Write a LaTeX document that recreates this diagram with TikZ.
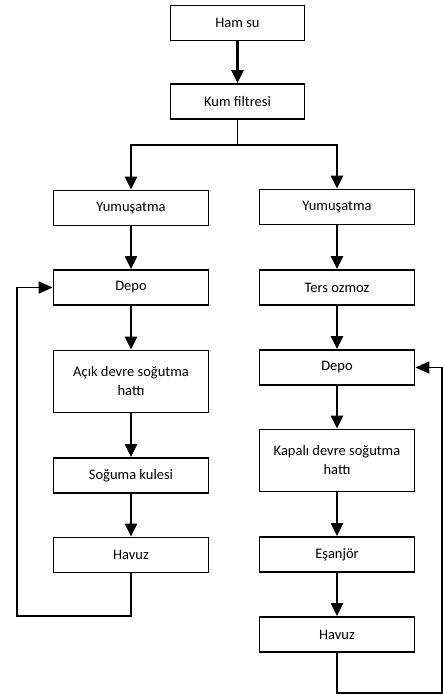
\documentclass[tikz,border=0pt]{standalone}
\usepackage{fontspec}
\setmainfont{Carlito}
\usetikzlibrary{positioning,arrows.meta}

\begin{document}
\begin{tikzpicture}[x=1pt,y=-1pt,
    box/.style={draw,line width=1.8pt,minimum width=155pt,minimum height=35pt,
      inner sep=2pt,align=center,font=\fontsize{14.5}{19}\selectfont},
    tallbox/.style={box,minimum height=62pt},
    flow/.style={line width=2.7pt,-{Triangle[length=13pt,width=12pt]}},
    back/.style={line width=1.9pt,-{Triangle[length=14pt,width=12pt]}}]
  \useasboundingbox (0,0) rectangle (443,697);

  % top of the line
  \node[box,minimum width=134pt] (ham) at (237.5,23) {Ham su};
  \node[box,minimum width=134pt] (kum) at (237.5,101.5) {Kum filtresi};

  % open circuit (left)
  \node[box] (yumL) at (131,208) {Yumuşatma};
  \node[box] (depoL) at (131,287.5) {Depo};
  \node[tallbox] (acik) at (131,381.5) {Açık devre soğutma\\hattı};
  \node[box] (kule) at (131,475.5) {Soğuma kulesi};
  \node[box] (havL) at (131,555) {Havuz};

  % closed circuit (right)
  \node[box] (yumR) at (337,207) {Yumuşatma};
  \node[box] (ters) at (337,287.5) {Ters ozmoz};
  \node[box] (depoR) at (337,367.5) {Depo};
  \node[tallbox] (kapali) at (337,460.5) {Kapalı devre soğutma\\hattı};
  \node[box] (esan) at (337,554.5) {Eşanjör};
  \node[box] (havR) at (337,634.5) {Havuz};

  \coordinate (split) at (237.5,145);
  \coordinate (turnL) at (17,616);
  \coordinate (turnR) at (442,693);

  \draw[flow] (ham) -- (kum);
  \draw[line width=1.9pt] (kum) -- (split);
  \draw[flow] (split) -| (yumL);
  \draw[flow] (split) -| (yumR);

  \draw[flow] (yumL) -- (depoL);
  \draw[flow] (depoL) -- (acik);
  \draw[flow] (acik) -- (kule);
  \draw[flow] (kule) -- (havL);

  \draw[flow] (yumR) -- (ters);
  \draw[flow] (ters) -- (depoR);
  \draw[flow] (depoR) -- (kapali);
  \draw[flow] (kapali) -- (esan);
  \draw[flow] (esan) -- (havR);

  % return loops
  \draw[back] (havL.south) |- (turnL) |- (depoL.west);
  \draw[back] (havR.south) |- (turnR) |- (depoR.east);
\end{tikzpicture}
\end{document}
